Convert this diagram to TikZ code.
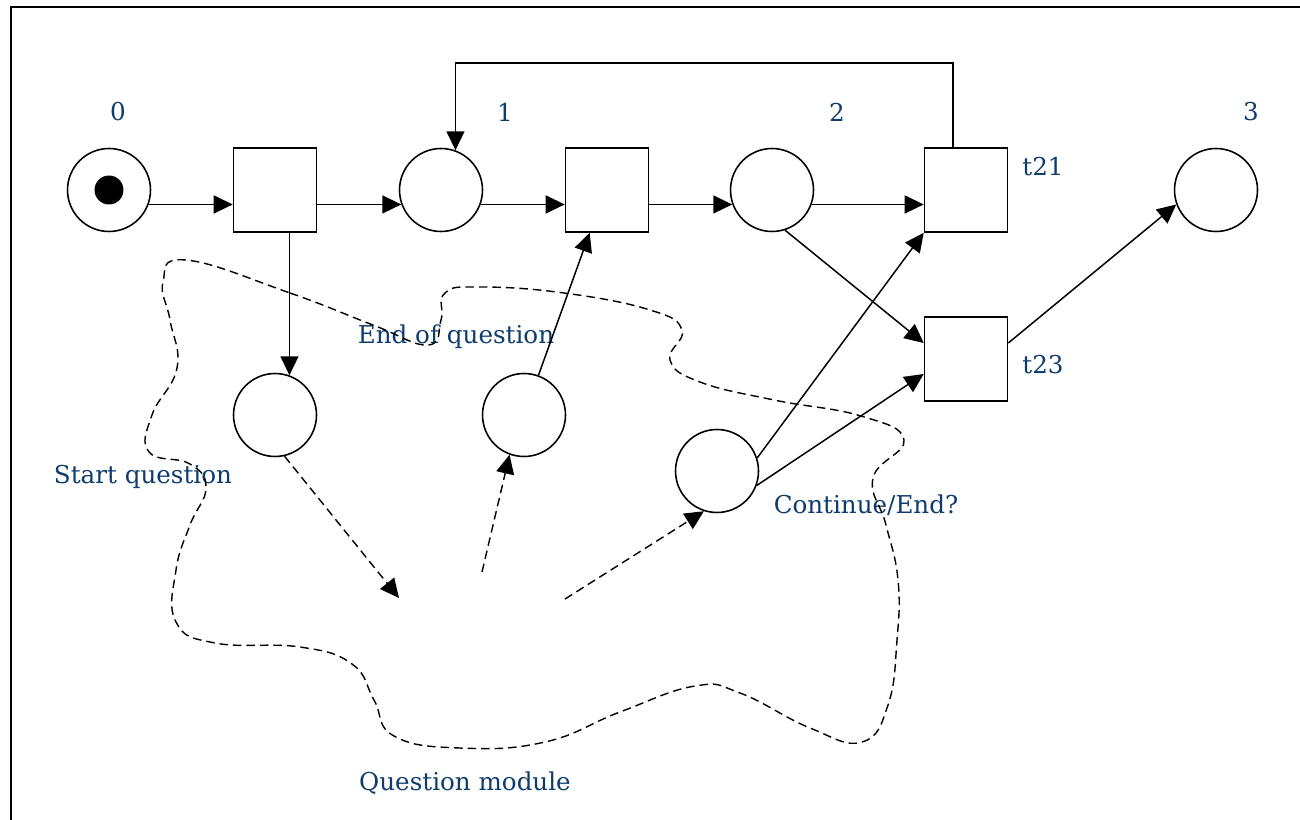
\documentclass[tikz,border=0pt]{standalone}
\usepackage{fontspec}
\setmainfont{DejaVu Serif}
\usetikzlibrary{arrows.meta}
\definecolor{lbl}{HTML}{0F3C6E}
\tikzset{
  place/.style={circle,draw,line width=0.9pt,minimum size=1.66cm,inner sep=0pt},
  trans/.style={rectangle,draw,line width=0.9pt,minimum width=1.66cm,minimum height=1.68cm,inner sep=0pt},
  token/.style={circle,fill=black,minimum size=0.58cm,inner sep=0pt},
  arr/.style={line width=0.85pt,-{Triangle[length=0.38cm,width=0.36cm]}},
  darr/.style={line width=0.8pt,dash pattern=on 0.17cm off 0.1cm,-{Triangle[length=0.38cm,width=0.36cm]}},
  lab/.style={text=lbl,font=\fontsize{14pt}{16pt}\selectfont,inner sep=0pt}
}
\begin{document}
\begin{tikzpicture}[x=0.02cm,y=-0.02cm]
\useasboundingbox (0,0) rectangle (1300,820);
\fill[white] (0,0) rectangle (1300,820);
\draw[line width=1.2pt] (11,830) -- (11,7) -- (1310,7);

% places and transitions
\node[place] (p0) at (109,190) {};
\node[token] (tok) at (109,190) {};
\node[trans] (t0) at (275,190) {};
\node[place] (p1) at (441,190) {};
\node[trans] (t1) at (607,190) {};
\node[place] (p2) at (772,190) {};
\node[trans] (t21) at (966,190) {};
\node[place] (p3) at (1216,190) {};
\node[trans] (t23) at (966,359) {};
\node[place] (pA) at (275,415) {};
\node[place] (pB) at (524,415) {};
\node[place] (pC) at (717,471) {};

% labels
\node[lab] (l0) at (118,112) {0};
\node[lab] (l1) at (505,112) {1};
\node[lab] (l2) at (837,112) {2};
\node[lab] (l3) at (1251,112) {3};
\node[lab] (lt21) at (1043,167) {t21};
\node[lab] (lt23) at (1043,365) {t23};
\node[lab] (leoq) at (456,337) {End of question};
\node[lab] (lsq) at (143,477) {Start question};
\node[lab] (lce) at (866,505) {Continue/End?};
\node[lab] (lqm) at (465,783) {Question module};

% solid arcs
\draw[arr] (p0.-20) -- (p0.-20 -| t0.west);
\draw[arr] (p1.200 -| t0.east) -- (p1.200);
\draw[arr] (p1.-20) -- (p1.-20 -| t1.west);
\draw[arr] (p2.200 -| t1.east) -- (p2.200);
\draw[arr] (p2.-20) -- (p2.-20 -| t21.west);
\coordinate (lpR) at (953,63);
\draw[arr] (t21.north -| lpR) -- (lpR) -| (p1.70);
\draw[arr] (t0.south -| pA.70) -- (pA.70);
\draw[arr] (pB.70) -- ([xshift=0.5cm]t1.south west);
\draw[arr] (pC.18) -- (t21.south west);
\draw[arr] (pC.-20) -- ([yshift=-0.3cm]t23.west);
\draw[arr] (p2.-72) -- ([yshift=0.32cm]t23.west);
\draw[arr] ([yshift=0.32cm]t23.east) -- (p3.200);

% dashed arcs
\coordinate (qa) at (399,598);
\coordinate (qb) at (482,572);
\coordinate (qc) at (565,599);
\draw[darr] (pA.-77) -- (qa);
\draw[darr] (qb) -- (pB.-110);
\draw[darr] (qc) -- (pC.-108);

% question module outline
\draw[line width=0.8pt,dash pattern=on 0.17cm off 0.1cm]
  plot[smooth cycle,tension=0.75] coordinates {
  (186,260) (290,293) (373,325) (428,345) (441,320) (445,293) (480,287) (564,293)
  (650,310) (682,330) (670,360) (700,382) (774,400) (861,416) (904,440)
  (873,478) (886,525) (898,580) (897,640) (888,705) (862,742) (810,728)
  (740,693) (695,686) (620,712) (545,742) (460,748) (394,736) (374,700)
  (352,664) (300,647) (215,643) (176,622) (176,570) (190,525) (206,488)
  (190,464) (149,452) (152,415) (177,368) (170,320) (163,282)};
\end{tikzpicture}
\end{document}
